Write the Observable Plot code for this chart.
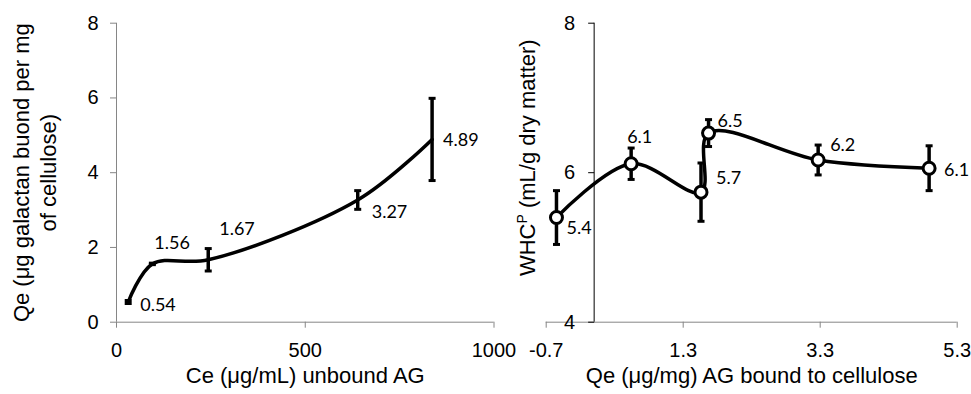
<!DOCTYPE html>
<html><head><meta charset="utf-8">
<script src="https://cdn.jsdelivr.net/npm/d3@7"></script>
<script src="https://cdn.jsdelivr.net/npm/@observablehq/plot@0.6"></script>
<style>
html,body{margin:0;padding:0;background:#fff;}
#wrap{position:relative;width:971px;height:394px;}
#wrap svg{position:absolute;left:0;top:0;}
#wrap svg [aria-label^="x-axis"] line, #wrap svg [aria-label^="x-axis"] path,
#wrap svg [aria-label^="y-axis"] line, #wrap svg [aria-label^="y-axis"] path {stroke:#868686;}
</style></head><body><div id="wrap"></div>
<script>
// ---- data (left panel) ----
const ceUnbound = [31, 95, 243, 639, 836];
const qeBound   = [0.54, 1.56, 1.67, 3.27, 4.89];
const qeError   = [0.04, 0.02, 0.3, 0.25, 1.1];
const qeLabels  = ["0.54", "1.56", "1.67", "3.27", "4.89"];
// ---- data (right panel) ----
const whcX      = [-0.55, 0.54, 1.56, 1.67, 3.27, 4.89];
const whcValues = [5.40, 6.12, 5.74, 6.53, 6.17, 6.06];
const whcError  = [0.36, 0.21, 0.39, 0.18, 0.20, 0.30];
const whcLabels = ["5.4", "6.1", "5.7", "6.5", "6.2", "6.1"];
// ---- ticks ----
const leftXTicks  = [0, 500, 1000];
const leftYTicks  = [0, 2, 4, 6, 8];
const rightXTicks = [-0.7, 1.3, 3.3, 5.3];
const rightYTicks = [4, 6, 8];
// ---- layout (label offsets in px) ----
const leftLabelOffsets  = [[12, 3], [2, -21], [11, -31], [14, 12], [11, 1]];
const rightLabelOffsets = [[10, 11], [-4, -26], [15, -14], [9, -12], [12, -15], [15, 2]];

const leftRows = ceUnbound.map((x, i) => ({x, y: qeBound[i], e: qeError[i], label: qeLabels[i]}));
const rightRows = whcX.map((x, i) => ({x, y: whcValues[i], e: whcError[i], label: whcLabels[i]}));

const capSym = {draw(ctx) { ctx.moveTo(-3.5, 0); ctx.lineTo(3.5, 0); }};
const leftTickSym = {draw(ctx) { ctx.moveTo(-6, 0); ctx.lineTo(0, 0); }};

const axisFont = "'Liberation Sans', Arial, sans-serif";
const labelFont = "Lato, 'Open Sans', sans-serif";
const W = 971, H = 394;

function errorMarks(rows) {
  return [
    Plot.ruleX(rows, {x: "x", y1: d => d.y - d.e, y2: d => d.y + d.e, stroke: "black", strokeWidth: 3.5}),
    Plot.dot(rows, {x: "x", y: d => d.y + d.e, symbol: capSym, r: 3, stroke: "black", strokeWidth: 3, fill: "none"}),
    Plot.dot(rows, {x: "x", y: d => d.y - d.e, symbol: capSym, r: 3, stroke: "black", strokeWidth: 3, fill: "none"})
  ];
}
function labelMarks(rows, offsets) {
  return rows.map((r, i) => Plot.text([r], {x: "x", y: "y", text: "label", dx: offsets[i][0], dy: offsets[i][1],
    textAnchor: "start", fontFamily: labelFont, fontSize: 18, fill: "black"}));
}

const left = Plot.plot({
  width: W, height: H,
  marginLeft: 116, marginRight: W - 493.5, marginTop: 22.7, marginBottom: H - 321.7,
  style: {background: "transparent", overflow: "visible", fontFamily: axisFont, fontSize: "20px", color: "#000"},
  x: {domain: [0, 1000], ticks: leftXTicks, tickSize: 6, tickPadding: 15, tickFormat: d => String(d), label: null},
  y: {domain: [0, 8], ticks: leftYTicks, tickSize: 6, tickPadding: 12, tickFormat: d => String(d), label: null},
  marks: [
    Plot.ruleY([0], {stroke: "#868686"}),
    Plot.ruleX([0], {stroke: "#868686"}),
    Plot.line(leftRows, {x: "x", y: "y", curve: "catmull-rom", stroke: "black", strokeWidth: 3.5}),
    ...errorMarks(leftRows),
    ...labelMarks(leftRows, leftLabelOffsets),
    Plot.text([0], {frameAnchor: "left", dx: -83, rotate: -90, textAnchor: "middle", lineHeight: 1.23,
      text: () => "Qe (μg galactan buond per mg\nof cellulose)", fontSize: 22, fontFamily: axisFont}),
    Plot.text([0], {frameAnchor: "bottom", dy: 61, textAnchor: "middle",
      text: () => "Ce (μg/mL) unbound AG", fontSize: 22, fontFamily: axisFont})
  ]
});

const right = Plot.plot({
  width: W, height: H,
  marginLeft: 545.7, marginRight: W - 956.7, marginTop: 22.7, marginBottom: H - 321.7,
  style: {background: "transparent", overflow: "visible", fontFamily: axisFont, fontSize: "20px", color: "#000"},
  x: {domain: [-0.7, 5.3], ticks: rightXTicks, tickSize: 6, tickPadding: 15, tickFormat: d => d.toFixed(1), label: null},
  y: {domain: [4, 8], axis: null},
  marks: [
    Plot.ruleY([4], {stroke: "#868686"}),
    Plot.ruleX([0], {y1: 4, y2: 8, stroke: "black"}),
    Plot.dot(rightYTicks, {x: 0, y: d => d, symbol: leftTickSym, r: 3, stroke: "black", strokeWidth: 1, fill: "none"}),
    Plot.text(rightYTicks, {x: 0, y: d => d, text: d => String(d), dx: -19, textAnchor: "end", fontSize: 20, fontFamily: axisFont}),
    Plot.line(rightRows, {x: "x", y: "y", curve: "catmull-rom", stroke: "black", strokeWidth: 3.5}),
    ...errorMarks(rightRows),
    Plot.dot(rightRows, {x: "x", y: "y", r: 6, fill: "white", stroke: "black", strokeWidth: 3}),
    ...labelMarks(rightRows, rightLabelOffsets),
    Plot.text([0], {frameAnchor: "left", dx: -18, dy: -15, rotate: -90, textAnchor: "middle",
      text: () => "WHCP (mL/g dry matter)", fontSize: 22, fontFamily: axisFont, ariaLabel: "whc-title"}),
    Plot.text([0], {frameAnchor: "bottom", dy: 61, textAnchor: "middle",
      text: () => "Qe (μg/mg) AG bound to cellulose", fontSize: 22, fontFamily: axisFont})
  ]
});

const wrap = document.getElementById("wrap");
wrap.appendChild(left);
wrap.appendChild(right);

// superscript P in WHC title
right.querySelectorAll("text").forEach(t => {
  if (t.textContent === "WHCP (mL/g dry matter)") {
    t.textContent = "";
    const ns = "http://www.w3.org/2000/svg";
    const a = document.createElementNS(ns, "tspan"); a.textContent = "WHC";
    const b = document.createElementNS(ns, "tspan"); b.textContent = "P";
    b.setAttribute("font-size", "14"); b.setAttribute("dy", "-8");
    const c = document.createElementNS(ns, "tspan"); c.textContent = " (mL/g dry matter)";
    c.setAttribute("dy", "8");
    t.appendChild(a); t.appendChild(b); t.appendChild(c);
  }
});
</script></body></html>
